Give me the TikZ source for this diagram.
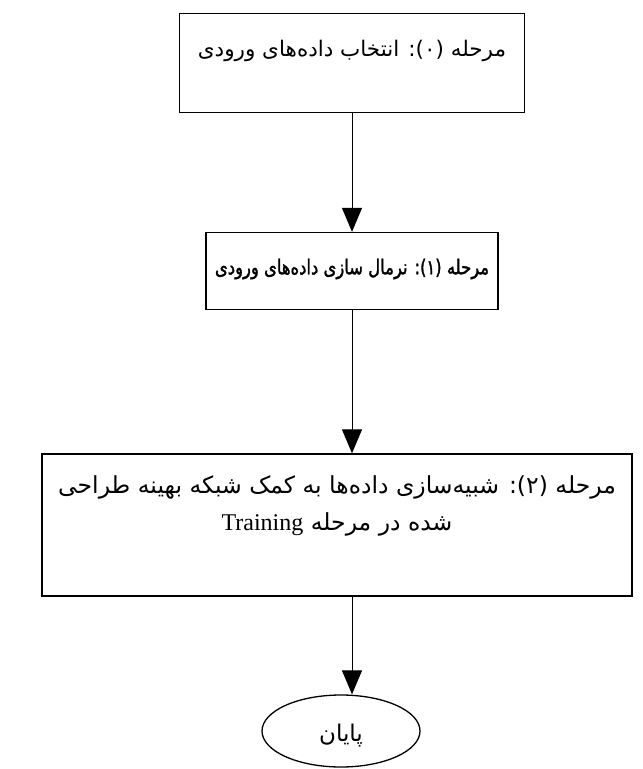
\documentclass[tikz,border=0pt]{standalone}
\usepackage{fontspec}
\usetikzlibrary{arrows.meta,shapes.geometric}
\TeXXeTstate=1
\newfontfamily\farsifont[Script=Arabic]{DejaVu Sans}
\newfontfamily\farsibold[Script=Arabic,FakeBold=1.5,FakeStretch=0.8]{DejaVu Sans}
\newfontfamily\latinfont{Liberation Serif}

\begin{document}
\begin{tikzpicture}[x=1pt, y=-1pt, >={Triangle[width=20pt,length=24pt]},
    stagebox/.style={draw, line width=1.3pt, rectangle, inner sep=0pt},
    stagetext/.style={font=\farsifont\fontsize{21.5}{36}\selectfont, align=center, inner sep=0pt},
    endbox/.style={draw, line width=1.3pt, ellipse, inner sep=0pt, minimum width=158pt, minimum height=72pt}]
    \useasboundingbox (0,0) rectangle (643,769);
    % stages
    \node[stagebox, minimum width=345pt, minimum height=99pt] (s0) at (352,63) {};
    \node[stagetext] (t0) at ([yshift=12pt]s0.center) {\beginR مرحله (۰): انتخاب داده‌های ورودی\endR};
    \node[stagebox, minimum width=292pt, minimum height=77pt] (s1) at (352,271) {};
    \node[stagetext, font=\farsibold\fontsize{20.5}{36}\selectfont] (t1) at ([yshift=2pt]s1.center) {\beginR مرحله (۱): نرمال سازی داده‌های ورودی\endR};
    \node[stagebox, minimum width=590pt, minimum height=142pt] (s2) at (337,525) {};
    \node[stagetext, font=\farsifont\fontsize{23.5}{37}\selectfont] (t2) at ([yshift=19pt]s2.center) {\beginR مرحله (۲): شبیه‌سازی داده‌ها به کمک شبکه بهینه طراحی\endR\\
        \beginR شده در مرحله \beginL{\latinfont\fontsize{24}{37}\selectfont Training}\endL\endR};
    \node[endbox] (e) at (341,731) {};
    \node[font=\farsifont\fontsize{23}{26}\selectfont, inner sep=0pt] (et) at ([yshift=-5pt]e.center) {\beginR پایان\endR};
    % arrows
    \draw[->, line width=1pt] (s0.south) -- (s1.north);
    \draw[->, line width=1pt] (s1.south) -- (s1.south |- s2.north);
    \draw[->, line width=1pt] (s2.south -| s1.south) -- (s1.south |- e.north);
\end{tikzpicture}
\end{document}
